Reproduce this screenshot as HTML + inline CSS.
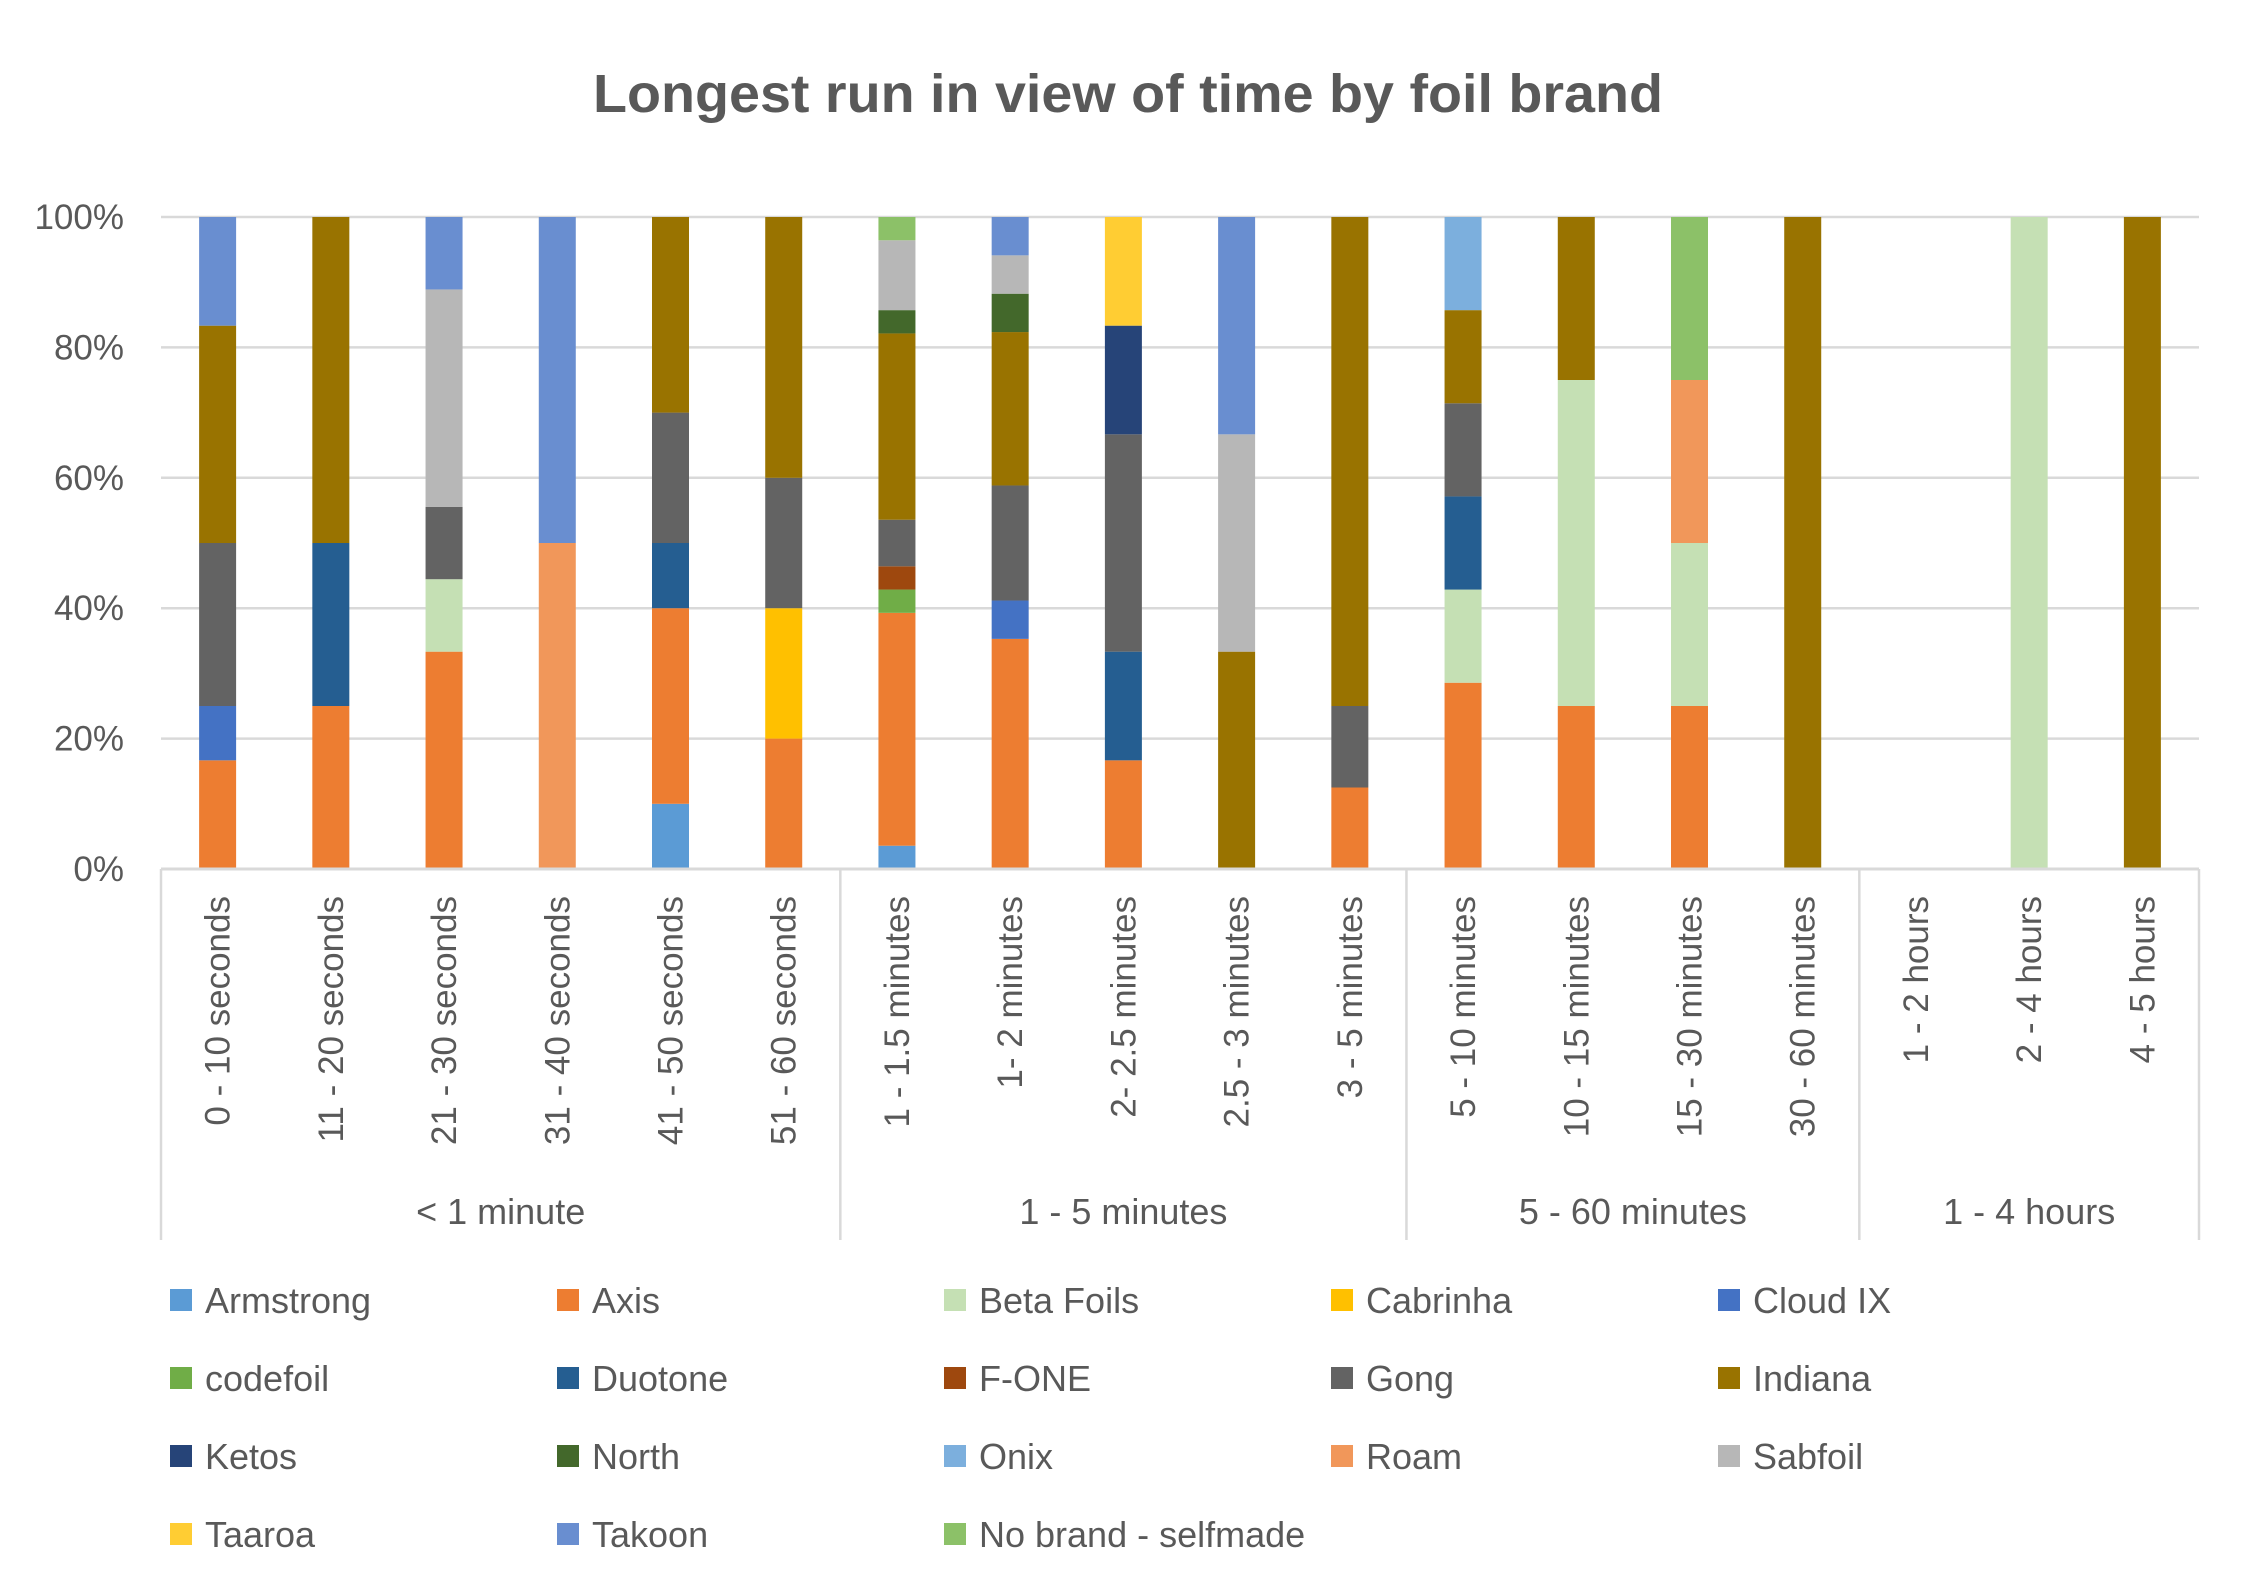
<!DOCTYPE html>
<html><head><meta charset="utf-8"><style>
html,body{margin:0;padding:0;background:#fff;}
svg{display:block;font-family:"Liberation Sans",sans-serif;}
</style></head><body>
<svg id="s" width="2248" height="1591" xmlns="http://www.w3.org/2000/svg">
<rect width="2248" height="1591" fill="#fff"/>
<text x="1128" y="112" text-anchor="middle" font-size="54" font-weight="bold" fill="#595959" textLength="1070" lengthAdjust="spacingAndGlyphs">Longest run in view of time by foil brand</text>
</svg>
<script>
const s=document.getElementById('s');const NS='http://www.w3.org/2000/svg';
function el(t,a,txt){const e=document.createElementNS(NS,t);for(const k in a)e.setAttribute(k,a[k]);if(txt!==undefined)e.textContent=txt;s.appendChild(e);return e;}
const names=["Armstrong","Axis","Beta Foils","Cabrinha","Cloud IX","codefoil","Duotone","F-ONE","Gong","Indiana","Ketos","North","Onix","Roam","Sabfoil","Taaroa","Takoon","No brand - selfmade"];
const cols=["#5B9BD5","#ED7D31","#C5E0B4","#FFC000","#4472C4","#70AD47","#255E91","#9E480E","#636363","#997300","#264478","#43682B","#7CAFDD","#F1975A","#B7B7B7","#FFCD33","#698ED0","#8CC168"];
const A=0,AX=1,B=2,C=3,CI=4,CF=5,D=6,F=7,G=8,I=9,K=10,N=11,O=12,R=13,S=14,T=15,TK=16,NB=17;
const data=[
[[AX,2],[CI,1],[G,3],[I,4],[TK,2]],
[[AX,1],[D,1],[I,2]],
[[AX,3],[B,1],[G,1],[S,3],[TK,1]],
[[R,1],[TK,1]],
[[A,1],[AX,3],[D,1],[G,2],[I,3]],
[[AX,1],[C,1],[G,1],[I,2]],
[[A,1],[AX,10],[CF,1],[F,1],[G,2],[I,8],[N,1],[S,3],[NB,1]],
[[AX,6],[CI,1],[G,3],[I,4],[N,1],[S,1],[TK,1]],
[[AX,1],[D,1],[G,2],[K,1],[T,1]],
[[I,1],[S,1],[TK,1]],
[[AX,1],[G,1],[I,6]],
[[AX,2],[B,1],[D,1],[G,1],[I,1],[O,1]],
[[AX,1],[B,2],[I,1]],
[[AX,1],[B,1],[R,1],[NB,1]],
[[I,1]],[],[[B,1]],[[I,1]]];
const labs=["0 - 10 seconds","11 - 20 seconds","21 - 30 seconds","31 - 40 seconds","41 - 50 seconds","51 - 60 seconds","1 - 1.5 minutes","1- 2 minutes","2- 2.5 minutes","2.5 - 3 minutes","3 - 5 minutes","5 - 10 minutes","10 - 15 minutes","15 - 30 minutes","30 - 60 minutes","1 - 2 hours","2 - 4 hours","4 - 5 hours"];
const x0=161,x1=2199,y0=869,y100=217,slot=(x1-x0)/18,bw=37;
for(let i=0;i<=5;i++){const y=y0-(y0-y100)*i/5;
 if(i>0)el('line',{x1:x0,x2:x1,y1:y,y2:y,stroke:'#D9D9D9','stroke-width':2.5});
 el('text',{x:124,y:y+12,'text-anchor':'end','font-size':35,fill:'#595959'},(i*20)+'%');}
data.forEach((d,i)=>{const tot=d.reduce((a,b)=>a+b[1],0);let acc=0;const cx=x0+slot*(i+0.5);
 d.forEach(([c,v])=>{const ya=y0-(y0-y100)*acc/tot;acc+=v;const yb=y0-(y0-y100)*acc/tot;
  el('rect',{x:cx-bw/2,y:yb,width:bw,height:ya-yb,fill:cols[c]});});
 el('text',{x:0,y:0,transform:`translate(${cx+12},896) rotate(-90)`,'text-anchor':'end','font-size':35,fill:'#595959'},labs[i]);});
el('line',{x1:x0,x2:x1,y1:y0,y2:y0,stroke:'#D9D9D9','stroke-width':3});
[0,6,11,15,18].forEach(k=>{const x=x0+slot*k;el('line',{x1:x,x2:x,y1:y0,y2:1240,stroke:'#D9D9D9','stroke-width':2.5});});
[["< 1 minute",0,6],["1 - 5 minutes",6,11],["5 - 60 minutes",11,15],["1 - 4 hours",15,18]].forEach(([t,a,b])=>{
 el('text',{x:x0+slot*(a+b)/2,y:1224,'text-anchor':'middle','font-size':36,fill:'#595959'},t);});
names.forEach((n,i)=>{const c=i%5,r=Math.floor(i/5);const x=170+c*387,y=1300+r*78;
 el('rect',{x:x,y:y-11,width:22,height:22,fill:cols[i]});
 el('text',{x:x+35,y:y+13,'font-size':36,fill:'#595959'},n);});
</script>
</body></html>
